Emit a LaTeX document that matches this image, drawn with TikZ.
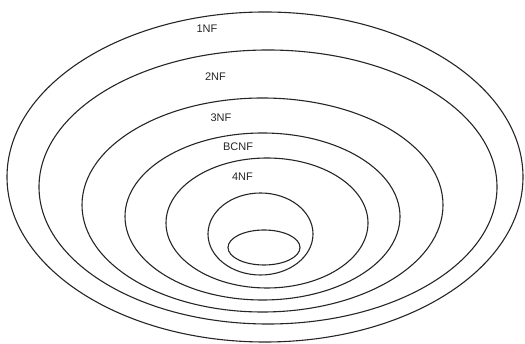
\documentclass[tikz,border=0pt]{standalone}
\usepackage{fontspec}
\setmainfont{Liberation Sans}
\begin{document}
\begin{tikzpicture}[x=1pt,y=-1pt,
  ring/.style={draw=black!85,line width=1.1pt},
  lbl/.style={font=\fontsize{11}{13}\selectfont,text=black!85,inner sep=0pt}]
\useasboundingbox (0,0) rectangle (525,344);
\draw[ring] (265,177) ellipse [x radius=258,y radius=165];
\draw[ring] (268,187) ellipse [x radius=229,y radius=137];
\draw[ring] (262.5,205) ellipse [x radius=180.5,y radius=107];
\draw[ring] (262.5,216.5) ellipse [x radius=137.5,y radius=83.5];
\draw[ring] (267,223) ellipse [x radius=101,y radius=65];
\draw[ring] (260.5,234) ellipse [x radius=52.5,y radius=41];
\draw[ring] (264,247.5) ellipse [x radius=36,y radius=17.5];
\node[lbl] (n1) at (207,28.7) {1NF};
\node[lbl] (n2) at (215.5,76.7) {2NF};
\node[lbl] (n3) at (221,118) {3NF};
\node[lbl] (nb) at (238,146.5) {BCNF};
\node[lbl] (n4) at (242.5,176.5) {4NF};
\end{tikzpicture}
\end{document}
